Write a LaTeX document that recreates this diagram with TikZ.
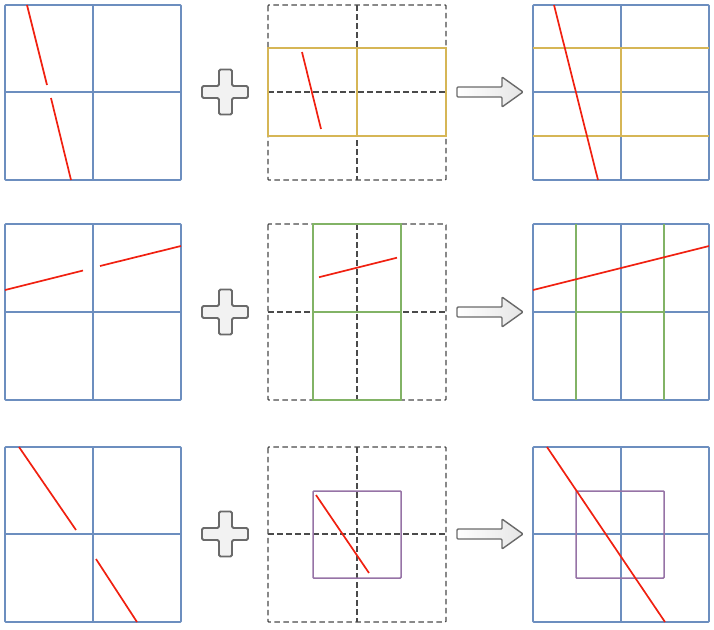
\documentclass[tikz,border=0pt]{standalone}
\definecolor{gblue}{HTML}{6C8EBF}
\definecolor{gyellow}{HTML}{D6B656}
\definecolor{ggreen}{HTML}{82B366}
\definecolor{gpurple}{HTML}{9673A6}
\definecolor{gred}{HTML}{F02010}
\definecolor{gdash}{HTML}{4A4A4A}
\definecolor{gsym}{HTML}{6A6A6A}
\definecolor{gsymfill}{HTML}{F2F2F2}
\tikzset{
  bluegrid/.style={draw=gblue, line width=1.7pt, rounded corners=0.8pt},
  dashgrid/.style={draw=gdash, line width=1.3pt, dash pattern=on 5.5pt off 3.5pt, rounded corners=0.8pt},
  yel/.style={draw=gyellow, line width=1.7pt},
  grn/.style={draw=ggreen, line width=1.7pt},
  pur/.style={draw=gpurple, line width=1.5pt, rounded corners=0.8pt},
  redline/.style={draw=gred, line width=1.7pt},
  plussym/.style={draw=gsym, fill=gsymfill, line width=1.8pt, rounded corners=1.5pt},
  arrowsym/.style={draw=gsym, left color=white, right color=gray!20, line width=1.4pt, rounded corners=1pt}
}
\newcommand{\mygrid}[7]{% style, x0, y0, x1, y1, xm, ym
  \draw[#1] (#2,#3) rectangle (#4,#5);
  \draw[#1] (#6,#3) -- (#6,#5);
  \draw[#1] (#2,#7) -- (#4,#7);
}
\newcommand{\myplus}[1]{% center y
  \draw[plussym] (219,#1-22.5) -- (232,#1-22.5) -- (232,#1-6) -- (248,#1-6) -- (248,#1+6) -- (232,#1+6) -- (232,#1+22.5) -- (219,#1+22.5) -- (219,#1+6) -- (202,#1+6) -- (202,#1-6) -- (219,#1-6) -- cycle;
}
\newcommand{\myarrow}[1]{% center y
  \draw[arrowsym] (457,#1-5) -- (502,#1-5) -- (502,#1-15) -- (523,#1) -- (502,#1+15) -- (502,#1+5) -- (457,#1+5) -- cycle;
}
\begin{document}
\begin{tikzpicture}[x=1pt,y=-1pt]
\useasboundingbox (0,0) rectangle (714,629);

% ---------- Row 1 ----------
\mygrid{bluegrid}{5}{5}{181}{180}{93}{92}
\draw[redline] (27,5) -- (47,85);
\draw[redline] (51,98) -- (71,180);
\myplus{92}
\mygrid{dashgrid}{268}{5}{446}{180}{357}{92}
\draw[yel] (268,48) rectangle (446,136);
\draw[yel] (357,48) -- (357,136);
\draw[redline] (302,52) -- (321,129);
\myarrow{92}
\mygrid{bluegrid}{533}{5}{709}{180}{621}{92}
\draw[yel] (533,48) -- (709,48);
\draw[yel] (533,136) -- (709,136);
\draw[yel] (621,48) -- (621,136);
\draw[redline] (554,5) -- (598,180);

% ---------- Row 2 ----------
\mygrid{bluegrid}{5}{224}{181}{400}{93}{312}
\draw[redline] (5,290) -- (83,270.5);
\draw[redline] (100,266) -- (181,246);
\myplus{312}
\mygrid{dashgrid}{268}{224}{446}{400}{357}{312}
\draw[grn] (313,224) rectangle (401,400);
\draw[grn] (313,312) -- (401,312);
\draw[redline] (319,277.2) -- (397,257.7);
\myarrow{312}
\mygrid{bluegrid}{533}{224}{709}{400}{621}{312}
\draw[grn] (576,224) -- (576,400);
\draw[grn] (664,224) -- (664,400);
\draw[grn] (576,312) -- (664,312);
\draw[redline] (533,290) -- (709,246);

% ---------- Row 3 ----------
\mygrid{bluegrid}{5}{447}{181}{622}{93}{534}
\draw[redline] (19,447) -- (76,530);
\draw[redline] (96,559) -- (137,622);
\myplus{534}
\mygrid{dashgrid}{268}{447}{446}{622}{357}{534}
\draw[pur] (313,491) rectangle (401,578);
\draw[redline] (316,495) -- (369,573);
\myarrow{534}
\mygrid{bluegrid}{533}{447}{709}{622}{621}{534}
\draw[pur] (576,491) rectangle (664,578);
\draw[redline] (547,447) -- (665,622);
\end{tikzpicture}
\end{document}
